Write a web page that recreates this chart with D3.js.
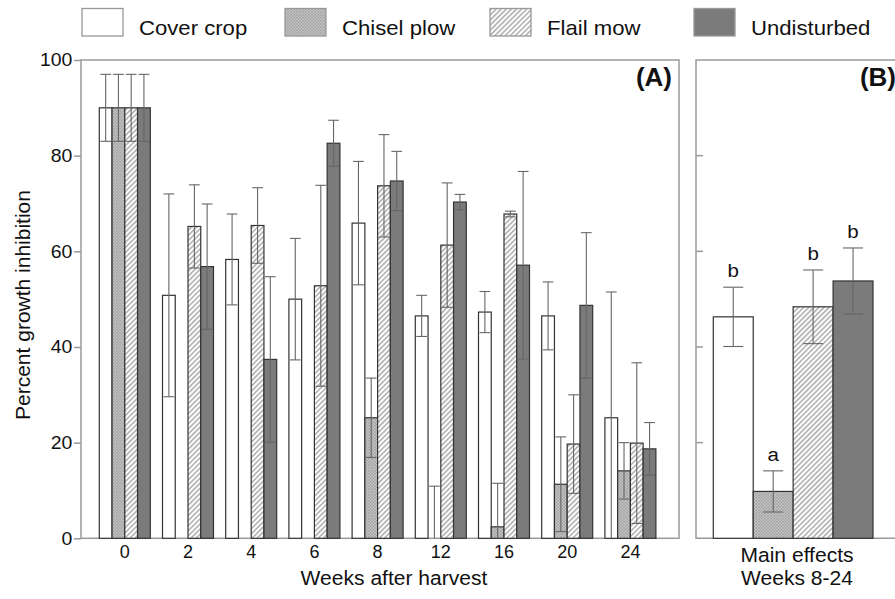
<!DOCTYPE html>
<html>
<head>
<meta charset="utf-8">
<script src="https://cdn.jsdelivr.net/npm/d3@7"></script>
<style>
  html, body { margin: 0; padding: 0; background: #fff; }
  svg { display: block; font-family: "Liberation Sans", Arial, Helvetica, sans-serif; }
</style>
</head>
<body>
<svg id="chart" width="895" height="599"></svg>
<script>
// ---------------- data ----------------
const weeks = ["0", "2", "4", "6", "8", "12", "16", "20", "24"];
const treatments = ["Cover crop", "Chisel plow", "Flail mow", "Undisturbed"];
const coverCrop    = [90.0, 50.8, 58.3, 50.0, 65.9, 46.5, 47.3, 46.5, 25.2];
const coverCropErr = [7.0, 21.2, 9.5, 12.7, 12.9, 4.3, 4.3, 7.1, 26.3];
const chiselPlow    = [90.0, 0, 0, 0, 25.2, 0, 2.4, 11.3, 14.1];
const chiselPlowErr = [7.0, 0, 0, 0, 8.3, 10.9, 9.1, 9.9, 5.9];
const flailMow    = [90.0, 65.2, 65.4, 52.8, 73.7, 61.3, 67.8, 19.7, 19.9];
const flailMowErr = [7.0, 8.7, 7.9, 21.0, 10.7, 13.0, 0.6, 10.3, 16.8];
const undisturbed    = [90.0, 56.8, 37.4, 82.6, 74.7, 70.3, 57.1, 48.7, 18.7];
const undisturbedErr = [7.0, 13.1, 17.3, 4.8, 6.2, 1.6, 19.6, 15.2, 5.5];
const mainEffects    = [46.3, 9.8, 48.4, 53.8];
const mainEffectsErr = [6.2, 4.3, 7.7, 6.9];
const mainLetters    = ["b", "a", "b", "b"];
const yTicks = [0, 20, 40, 60, 80, 100];

const seriesVals = [coverCrop, chiselPlow, flailMow, undisturbed];
const seriesErrs = [coverCropErr, chiselPlowErr, flailMowErr, undisturbedErr];

// ---------------- setup ----------------
const svg = d3.select("#chart");
const defs = svg.append("defs");

// chisel: fine crosshatch
const pc = defs.append("pattern").attr("id", "pChisel").attr("patternUnits", "userSpaceOnUse")
  .attr("width", 3).attr("height", 3);
pc.append("rect").attr("width", 3).attr("height", 3).attr("fill", "#c0c0c0");
pc.append("path").attr("d", "M0,0L3,3M3,0L0,3").attr("stroke", "#9c9c9c").attr("stroke-width", 0.55);

// flail: diagonal hatch
const pf = defs.append("pattern").attr("id", "pFlail").attr("patternUnits", "userSpaceOnUse")
  .attr("width", 3.6).attr("height", 3.6).attr("patternTransform", "rotate(45)");
pf.append("rect").attr("width", 3.6).attr("height", 3.6).attr("fill", "#fff");
pf.append("line").attr("x1", 0.8).attr("y1", 0).attr("x2", 0.8).attr("y2", 3.6)
  .attr("stroke", "#8c8c8c").attr("stroke-width", 1.1);

const fills = ["#ffffff", "url(#pChisel)", "url(#pFlail)", "#7b7b7b"];
const frameColor = "#9a9a9a";
const barStroke = "#333";
const errColor = "#666";

function label(g, x, y, s, size, anchor, sx, weight) {
  return g.append("text")
    .attr("transform", `translate(${x},${y}) scale(${sx || 1},1)`)
    .attr("text-anchor", anchor || "start")
    .attr("font-size", size)
    .attr("font-weight", weight || "normal")
    .attr("fill", "#111")
    .text(s);
}

// ---------------- scales ----------------
const y = d3.scaleLinear().domain([0, 100]).range([538.3, 60]);
const xA = d3.scaleBand().domain(weeks).range([93.2, 662]).paddingInner(0.193).paddingOuter(0.0965);
const xSub = d3.scaleBand().domain(treatments).range([0, xA.bandwidth()]);
const xB = d3.scaleBand().domain(treatments).range([713.3, 873]);

// ---------------- panel A ----------------
const gA = svg.append("g");
gA.append("rect").attr("x", 81).attr("y", y(100)).attr("width", 598).attr("height", y(0) - y(100))
  .attr("fill", "none").attr("stroke", frameColor).attr("stroke-width", 1.5);

const yAxis = gA.append("g").attr("transform", "translate(81,0)")
  .call(d3.axisLeft(y).tickValues(yTicks).tickSize(7).tickPadding(1));
yAxis.select(".domain").remove();
yAxis.selectAll("line").attr("stroke", frameColor).attr("stroke-width", 1.5);
yAxis.selectAll("text").attr("font-size", 18).attr("fill", "#111")
  .attr("font-family", "Liberation Sans, Arial, sans-serif")
  .attr("transform", "scale(1.08,1)");

const xAxis = gA.append("g").attr("transform", `translate(0,${y(0)})`)
  .call(d3.axisBottom(xA).tickSize(0).tickPadding(7));
xAxis.select(".domain").remove();
xAxis.selectAll("text").attr("font-size", 18).attr("fill", "#111")
  .attr("font-family", "Liberation Sans, Arial, sans-serif");

const barData = [];
weeks.forEach((w, i) => {
  treatments.forEach((t, j) => {
    barData.push({ w, t, j, v: seriesVals[j][i], e: seriesErrs[j][i] });
  });
});

gA.append("g").selectAll("rect").data(barData).join("rect")
  .attr("x", d => xA(d.w) + xSub(d.t))
  .attr("y", d => y(d.v))
  .attr("width", xSub.bandwidth())
  .attr("height", d => y(0) - y(d.v))
  .attr("fill", d => fills[d.j])
  .attr("stroke", barStroke).attr("stroke-width", 1.2);

function errBars(g, data, xf, bw, cap) {
  const eg = g.append("g").attr("stroke", errColor).attr("stroke-width", 1.1);
  data.filter(d => d.e > 0).forEach(d => {
    const cx = xf(d) + bw / 2;
    const hi = d.v + d.e, lo = Math.max(0, d.v - d.e);
    eg.append("line").attr("x1", cx).attr("x2", cx).attr("y1", y(lo)).attr("y2", y(hi));
    eg.append("line").attr("x1", cx - cap).attr("x2", cx + cap).attr("y1", y(hi)).attr("y2", y(hi));
    if (lo > 0) eg.append("line").attr("x1", cx - cap).attr("x2", cx + cap).attr("y1", y(lo)).attr("y2", y(lo));
  });
}
errBars(gA, barData, d => xA(d.w) + xSub(d.t), xSub.bandwidth(), xSub.bandwidth() * 0.42);

label(gA, 672, 86, "(A)", 26, "end", 1, "bold");
label(gA, 394, 585, "Weeks after harvest", 19.5, "middle", 1.08);

// y title
svg.append("text")
  .attr("transform", "translate(30,305) rotate(-90)")
  .attr("text-anchor", "middle").attr("font-size", 21).attr("fill", "#111")
  .text("Percent growth inhibition");

// ---------------- panel B ----------------
const gB = svg.append("g");
gB.append("path")
  .attr("d", `M905,${y(100)}H696V${y(0)}H905`)
  .attr("fill", "none").attr("stroke", frameColor).attr("stroke-width", 1.5);
gB.append("g").selectAll("line").data(yTicks.filter(v => v > 0 && v < 100)).join("line")
  .attr("x1", 696).attr("x2", 703).attr("y1", d => y(d)).attr("y2", d => y(d))
  .attr("stroke", frameColor).attr("stroke-width", 1.5);

const mainData = treatments.map((t, j) => ({ t, j, v: mainEffects[j], e: mainEffectsErr[j], l: mainLetters[j] }));
gB.append("g").selectAll("rect").data(mainData).join("rect")
  .attr("x", d => xB(d.t)).attr("y", d => y(d.v))
  .attr("width", xB.bandwidth()).attr("height", d => y(0) - y(d.v))
  .attr("fill", d => fills[d.j]).attr("stroke", barStroke).attr("stroke-width", 1.2);
errBars(gB, mainData, d => xB(d.t), xB.bandwidth(), 10);
mainData.forEach(d => {
  label(gB, xB(d.t) + xB.bandwidth() / 2, y(d.v + d.e) - 10, d.l, 19, "middle", 1.08);
});
label(gB, 896, 86, "(B)", 26, "end", 1, "bold");
label(gB, 797, 562, "Main effects", 19.5, "middle", 1.08);
label(gB, 797, 585, "Weeks 8-24", 19.5, "middle", 1.08);

// ---------------- legend ----------------
const legX = [82, 285, 490, 694];
const gL = svg.append("g");
treatments.forEach((t, j) => {
  gL.append("rect").attr("x", legX[j]).attr("y", 8.5).attr("width", 41).attr("height", 27.5)
    .attr("fill", fills[j]).attr("stroke", "#999").attr("stroke-width", 1.3);
  label(gL, legX[j] + 57, 35, t, 20.5, "start", 1.08);
});
</script>
</body>
</html>
